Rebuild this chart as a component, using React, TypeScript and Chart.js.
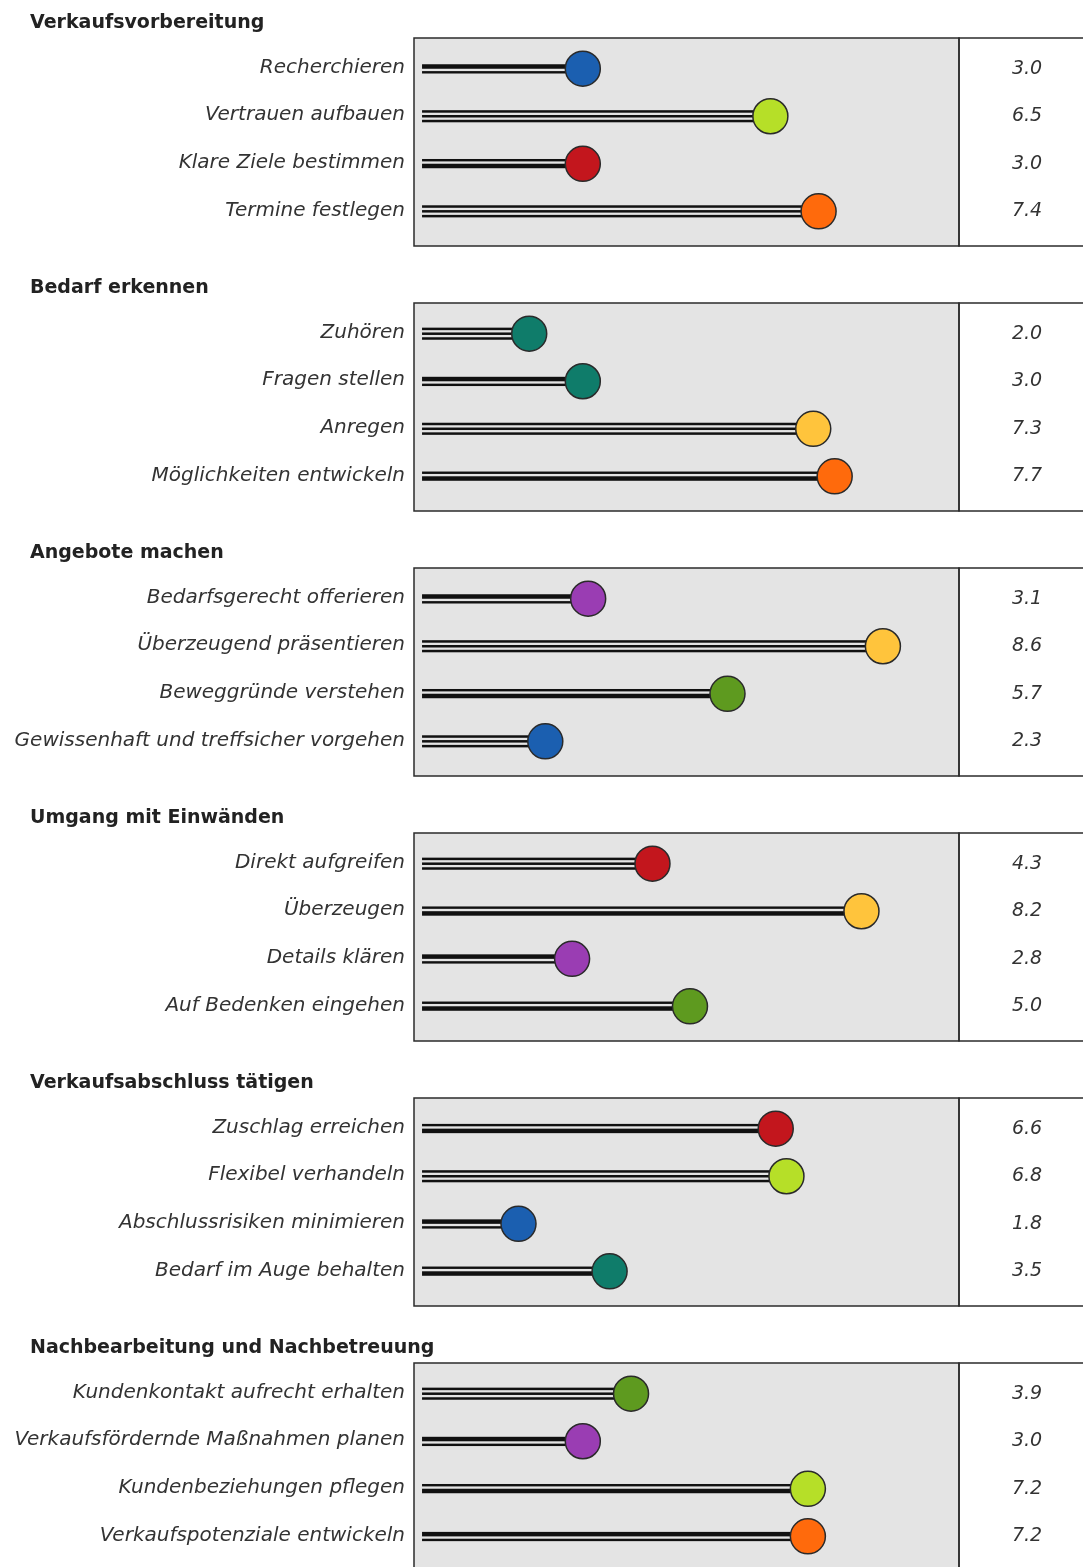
import React, { useEffect, useRef } from "react";
import { Chart, registerables } from "chart.js";

Chart.register(...registerables);

// ---------- data ----------
const groupTitles = [
  "Verkaufsvorbereitung",
  "Bedarf erkennen",
  "Angebote machen",
  "Umgang mit Einwänden",
  "Verkaufsabschluss tätigen",
  "Nachbearbeitung und Nachbetreuung",
];

const groupLabels = [
  ["Recherchieren", "Vertrauen aufbauen", "Klare Ziele bestimmen", "Termine festlegen"],
  ["Zuhören", "Fragen stellen", "Anregen", "Möglichkeiten entwickeln"],
  ["Bedarfsgerecht offerieren", "Überzeugend präsentieren", "Beweggründe verstehen", "Gewissenhaft und treffsicher vorgehen"],
  ["Direkt aufgreifen", "Überzeugen", "Details klären", "Auf Bedenken eingehen"],
  ["Zuschlag erreichen", "Flexibel verhandeln", "Abschlussrisiken minimieren", "Bedarf im Auge behalten"],
  ["Kundenkontakt aufrecht erhalten", "Verkaufsfördernde Maßnahmen planen", "Kundenbeziehungen pflegen", "Verkaufspotenziale entwickeln"],
];

const groupValues = [
  [3.0, 6.5, 3.0, 7.4],
  [2.0, 3.0, 7.3, 7.7],
  [3.1, 8.6, 5.7, 2.3],
  [4.3, 8.2, 2.8, 5.0],
  [6.6, 6.8, 1.8, 3.5],
  [3.9, 3.0, 7.2, 7.2],
];

// ---------- styles ----------
const BLUE = "#1b5fb0";
const LIME = "#b6df28";
const RED = "#c3161d";
const ORANGE = "#ff6a0c";
const TEAL = "#0f7c6a";
const YELLOW = "#ffc43c";
const PURPLE = "#9a3db3";
const GREEN = "#5e9a1f";

const groupColors = [
  [BLUE, LIME, RED, ORANGE],
  [TEAL, TEAL, YELLOW, ORANGE],
  [PURPLE, YELLOW, GREEN, BLUE],
  [RED, YELLOW, PURPLE, GREEN],
  [RED, LIME, BLUE, TEAL],
  [GREEN, PURPLE, LIME, ORANGE],
];

const groupStripes = [
  ["A", "B", "C", "B"],
  ["B", "A", "B", "C"],
  ["A", "B", "C", "B"],
  ["B", "C", "A", "C"],
  ["C", "B", "A", "C"],
  ["B", "A", "C", "A"],
];

// [offset from row centre, line width]
const STRIPES: Record<string, number[][]> = {
  A: [[-2.2, 4.5], [3.6, 2.4]],
  B: [[-4.8, 2.5], [0, 2.5], [4.8, 2.5]],
  C: [[-3.6, 2.4], [2.2, 4.5]],
};

const FONT = "'DejaVu Sans', 'Liberation Sans', sans-serif";

const lollipopPlugin = {
  id: "lollipop",
  beforeDatasetsDraw(chart: any, _args: any, opts: any) {
    const { ctx, chartArea: a } = chart;
    const xs = chart.scales.x;
    const ys = chart.scales.y;
    const g = opts.group as number;
    const values = groupValues[g];
    const labels = groupLabels[g];
    ctx.save();
    // grey plot panel
    ctx.fillStyle = "#e4e4e4";
    ctx.fillRect(a.left, a.top, a.right - a.left, a.bottom - a.top);
    // white value panel
    const rEnd = chart.width + 20;
    ctx.fillStyle = "#ffffff";
    ctx.fillRect(a.right, a.top, rEnd - a.right, a.bottom - a.top);
    ctx.strokeStyle = "#2b2b2b";
    ctx.lineWidth = 1.5;
    ctx.strokeRect(a.left, a.top, a.right - a.left, a.bottom - a.top);
    ctx.strokeRect(a.right, a.top, rEnd - a.right, a.bottom - a.top);

    // stripes (stems)
    ctx.fillStyle = "#111111";
    values.forEach((v, i) => {
      const yc = ys.getPixelForValue(i);
      const x0 = xs.getPixelForValue(0);
      const x1 = xs.getPixelForValue(v);
      STRIPES[groupStripes[g][i]].forEach(([off, w]) => {
        ctx.fillRect(x0, yc + off - w / 2, x1 - x0, w);
      });
    });

    // category labels
    ctx.fillStyle = "#333333";
    ctx.font = `italic 20px ${FONT}`;
    ctx.textAlign = "right";
    ctx.textBaseline = "middle";
    labels.forEach((l, i) => {
      ctx.fillText(l, a.left - 9, ys.getPixelForValue(i) - 1);
    });

    // value texts
    ctx.font = `italic 19px ${FONT}`;
    ctx.textAlign = "center";
    values.forEach((v, i) => {
      ctx.fillText(v.toFixed(1), a.right + 68, ys.getPixelForValue(i));
    });

    // group title
    ctx.fillStyle = "#222222";
    ctx.font = `bold 19px ${FONT}`;
    ctx.textAlign = "left";
    ctx.textBaseline = "alphabetic";
    ctx.fillText(groupTitles[g], 30, a.top - 10);
    ctx.restore();
  },
};

function Group({ g }: { g: number }) {
  const ref = useRef<HTMLCanvasElement | null>(null);
  useEffect(() => {
    if (!ref.current) return;
    const values = groupValues[g];
    const chart = new Chart(ref.current, {
      type: "scatter",
      data: {
        datasets: [
          {
            data: values.map((v, i) => ({ x: v, y: i })),
            pointRadius: 17.5,
            pointHoverRadius: 17.5,
            pointBackgroundColor: groupColors[g],
            pointBorderColor: "#2a2a2a",
            pointBorderWidth: 1.5,
          },
        ],
      },
      options: {
        responsive: false,
        animation: false,
        events: [],
        layout: { padding: { top: 38, bottom: 17, right: 124, left: 414 } },
        plugins: {
          legend: { display: false },
          tooltip: { enabled: false },
          title: { display: false },
          lollipop: { group: g },
        } as any,
        scales: {
          x: {
            type: "linear",
            min: -0.15,
            max: 10.02,
            display: false,
          },
          y: {
            type: "linear",
            reverse: true,
            min: -0.6458,
            max: 3.7292,
            display: false,
          },
        },
      },
      plugins: [lollipopPlugin],
    });
    return () => chart.destroy();
  }, [g]);
  return (
    <canvas
      ref={ref}
      width={1083}
      height={265}
      style={{ display: "block", width: 1083, height: 265 }}
    />
  );
}

export default function App() {
  return (
    <div
      style={{
        position: "absolute",
        left: 0,
        top: 0,
        width: 1083,
        height: 1567,
        overflow: "hidden",
        background: "#ffffff",
      }}
    >
      {groupTitles.map((_, g) => (
        <Group key={g} g={g} />
      ))}
    </div>
  );
}
